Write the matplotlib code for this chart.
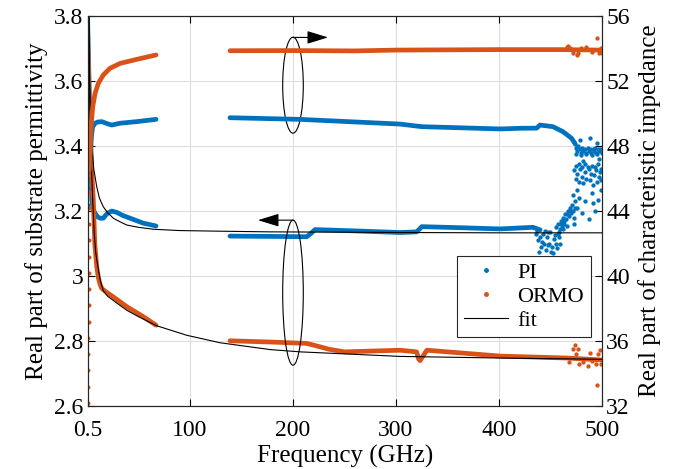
import matplotlib
matplotlib.use('Agg')
import matplotlib.pyplot as plt
from matplotlib.patches import Ellipse
from matplotlib.lines import Line2D

plt.rcParams['font.family'] = ['Liberation Serif', 'DejaVu Serif']

BLUE = '#0072BD'
ORANGE = '#D95319'

# ---- PI, permittivity (left axis) ----
pi_eps_f1 = [0.5, 1.5, 2.5, 3.6, 4.6, 6.0, 7.8, 10.0, 12.6, 15.8, 19.7, 24.0, 28.8, 35.0, 41.8, 54.4, 67.0]
pi_eps_v1 = [3.80, 3.66, 3.52, 3.40, 3.234, 3.205, 3.193, 3.183, 3.178, 3.178, 3.193, 3.200, 3.196, 3.186, 3.178, 3.163, 3.154]
pi_eps_f2 = [138.8, 180.0, 213.3, 217.0, 221.4, 260.0, 303.9, 320.0, 323.0, 325.0, 360.0, 401.0, 433.0, 440.0]
pi_eps_v2 = [3.123, 3.122, 3.121, 3.130, 3.143, 3.139, 3.134, 3.136, 3.145, 3.152, 3.149, 3.145, 3.150, 3.142]
pi_eps_noise_f = [436, 438, 440, 441, 443, 444, 446, 447, 449, 450, 452, 453, 455, 456, 458, 459, 445, 439, 451, 457,
                  442, 448, 454, 437, 447.5, 452.5,
                  455, 457, 459, 460, 462, 463, 464, 465, 467, 468, 469, 470, 471, 472, 466, 461, 474, 476,
                  460.5, 463.5, 466.5, 469.5, 472.5, 458, 462.5]
pi_eps_noise_v = [3.13, 3.11, 3.12, 3.09, 3.13, 3.10, 3.08, 3.12, 3.10, 3.135, 3.09, 3.115, 3.10, 3.085, 3.12, 3.10,
                  3.14, 3.075, 3.075, 3.13,
                  3.105, 3.095, 3.125, 3.14, 3.135, 3.07,
                  3.15, 3.16, 3.145, 3.17, 3.18, 3.16, 3.19, 3.175, 3.20, 3.185, 3.21, 3.195, 3.22, 3.20, 3.155,
                  3.15, 3.23, 3.21,
                  3.16, 3.17, 3.19, 3.20, 3.18, 3.135, 3.145]

# ---- PI, characteristic impedance (right axis) ----
pi_z_f1 = [2.0, 3.6, 4.6, 5.5, 7.8, 10.0, 14.3, 20.7, 24.0, 32.0, 48.3, 67.0]
pi_z_v1 = [46.5, 47.96, 48.8, 49.19, 49.40, 49.47, 49.50, 49.35, 49.29, 49.40, 49.50, 49.64]
pi_z_f2 = [138.8, 206.8, 219.7, 303.9, 325.0, 401.0, 420.4, 436.6, 439.8, 452.4, 462.2, 466.0, 470.6, 473.8]
pi_z_v2 = [49.74, 49.64, 49.60, 49.35, 49.19, 49.05, 49.09, 49.10, 49.29, 49.19, 48.88, 48.70, 48.47, 48.16]
pi_z_noise_f = [473.8, 475, 476, 477, 478.7, 480, 481, 482, 483.5, 485, 486, 487, 488.3, 489.5, 491, 492, 493.2,
                494.5, 496, 497, 498, 499.5, 474.5, 479.5, 484.5, 490, 495, 500,
                473, 474.5, 476, 477.5, 479, 480.5, 482, 483.5, 485, 486.5, 488, 489.5, 491, 492.5, 494, 495.5,
                497, 498.5, 499.5, 475, 478, 481, 484, 487, 490, 493, 496, 499,
                472, 474, 478, 481, 484, 487, 490, 493, 496, 499, 488, 479, 495, 473, 476, 491, 482, 497]
pi_z_noise_v = [48.1, 47.9, 47.7, 48.0, 47.8, 47.6, 47.9, 47.7, 47.8, 47.6, 47.9, 47.7, 47.8, 47.6, 47.8, 47.7, 47.9,
                47.6, 47.8, 47.7, 47.8, 47.7, 47.5, 47.45, 47.5, 47.45, 47.5, 47.6,
                46.5, 46.0, 46.3, 45.8, 46.6, 46.1, 45.7, 46.4, 46.0, 46.7, 45.9, 46.3, 45.6, 46.2, 46.5, 45.8,
                46.1, 46.4, 45.9, 46.8, 46.9, 46.7, 46.9, 46.6, 46.8, 46.7, 46.9, 46.6,
                45.0, 44.2, 44.8, 43.9, 44.6, 43.5, 45.1, 44.0, 44.7, 45.3, 48.5, 48.4, 48.2, 43.2, 45.3, 44.5,
                47.1, 47.2]

# ---- ORMO, permittivity (left axis) ----
ormo_eps_f1 = [0.5, 2.0, 3.6, 4.6, 6.1, 7.5, 9.4, 11.0, 12.6, 14.3, 19.0, 25.5, 38.6, 54.7, 67.0]
ormo_eps_v1 = [3.75, 3.55, 3.40, 3.32, 3.234, 3.10, 3.029, 2.995, 2.975, 2.962, 2.950, 2.936, 2.906, 2.875, 2.849]
ormo_eps_f2 = [138.8, 180.0, 213.0, 219.7, 235.0, 250.0, 303.9, 320.0, 322.0, 323.5, 325.0, 330.0, 401.0, 466.0, 500.0]
ormo_eps_v2 = [2.801, 2.797, 2.793, 2.788, 2.775, 2.767, 2.772, 2.767, 2.745, 2.740, 2.748, 2.772, 2.754, 2.748, 2.742]
ormo_eps_low_f = [1.2, 1.25, 1.3, 1.35, 1.4, 1.45, 1.5, 1.55, 1.6, 1.65, 1.7, 1.75, 1.8, 1.85, 1.9, 1.95]
ormo_eps_low_v = [2.61, 2.66, 2.71, 2.76, 2.81, 2.86, 2.91, 2.96, 3.01, 3.06, 3.11, 3.16, 3.21, 3.26, 3.31, 3.36]
pi_eps_low_f = [1.0, 1.05, 1.1, 1.15, 1.2, 1.25, 1.3]
pi_eps_low_v = [3.22, 3.27, 3.32, 3.37, 3.42, 3.47, 3.52]
ormo_eps_noise_f = [472, 473.8, 476.7, 475, 478, 482, 486, 490, 494, 496, 494.8, 498.3, 499, 468, 488]
ormo_eps_noise_v = [2.775, 2.788, 2.777, 2.760, 2.730, 2.735, 2.725, 2.740, 2.730, 2.760, 2.665, 2.772, 2.730, 2.735, 2.765]

# ---- ORMO, characteristic impedance (right axis) ----
ormo_z_f1 = [2.0, 2.9, 3.9, 5.5, 7.8, 11.0, 15.8, 22.3, 32.0, 48.3, 67.0]
ormo_z_v1 = [46.5, 47.75, 49.2, 50.4, 51.24, 51.86, 52.37, 52.78, 53.08, 53.33, 53.60]
ormo_z_f2 = [138.8, 200.0, 260.0, 300.0, 400.0, 460.0, 500.0]
ormo_z_v2 = [53.86, 53.87, 53.85, 53.90, 53.93, 53.93, 53.90]
ormo_z_noise_f = [466, 467.3, 469, 472, 475.5, 477, 480, 485, 490, 494.8, 497, 499, 500]
ormo_z_noise_v = [54.1, 54.15, 54.05, 53.75, 53.6, 53.7, 54.05, 54.1, 53.8, 54.63, 53.75, 54.0, 53.7]

# ---- fits ----
fit_pi_f = [1.9, 2.2, 3.0, 4.6, 6.5, 9.4, 12.0, 15.8, 20.0, 25.5, 32.0, 38.6, 50.0, 64.4, 90.0, 130.0, 177.7,
            250.0, 303.9, 400.0, 500.0]
fit_pi_v = [3.80, 3.66, 3.52, 3.40, 3.33, 3.275, 3.24, 3.213, 3.195, 3.178, 3.167, 3.157, 3.150, 3.144, 3.140,
            3.138, 3.136, 3.135, 3.134, 3.133, 3.133]
fit_ormo_f = [1.6, 2.2, 3.0, 3.8, 4.6, 5.5, 7.0, 8.5, 11.0, 13.0, 15.8, 20.0, 25.5, 38.6, 48.3, 67.0, 96.8, 129.1,
              177.7, 206.8, 303.9, 401.0, 500.0]
fit_ormo_v = [3.80, 3.65, 3.50, 3.40, 3.31, 3.234, 3.13, 3.07, 3.02, 2.985, 2.955, 2.938, 2.925, 2.895, 2.878,
              2.848, 2.818, 2.795, 2.774, 2.767, 2.753, 2.748, 2.744]

x_ticks = [0.5, 100, 200, 300, 400, 500]
x_ticklabels = ['0.5', '100', '200', '300', '400', '500']
eps_ticks = [2.6, 2.8, 3.0, 3.2, 3.4, 3.6, 3.8]
eps_ticklabels = ['2.6', '2.8', '3', '3.2', '3.4', '3.6', '3.8']
z_ticks = [32, 36, 40, 44, 48, 52, 56]

FS = 17
LFS = 18
LW = 3.4
MS = 3.2

fig = plt.figure(figsize=(6.84, 4.69), dpi=100)
ax = fig.add_axes([0.128, 0.134, 0.752, 0.832])
ax2 = ax.twinx()

ax.grid(True, color='#DEDEDE', linewidth=0.8)
ax.set_axisbelow(True)

# permittivity
for f, v, c in [(pi_eps_f1, pi_eps_v1, BLUE), (pi_eps_f2, pi_eps_v2, BLUE),
                (ormo_eps_f1, ormo_eps_v1, ORANGE), (ormo_eps_f2, ormo_eps_v2, ORANGE)]:
    ax.plot(f, v, color=c, lw=LW, solid_capstyle='round', solid_joinstyle='round')
ax.plot(pi_eps_low_f, pi_eps_low_v, '.', color=BLUE, ms=MS + 0.5)
ax.plot(ormo_eps_low_f, ormo_eps_low_v, '.', color=ORANGE, ms=MS + 0.5)
ax.plot(pi_eps_noise_f, pi_eps_noise_v, '.', color=BLUE, ms=MS + 1)
ax.plot(ormo_eps_noise_f, ormo_eps_noise_v, '.', color=ORANGE, ms=MS + 1)

# impedance
for f, v, c in [(pi_z_f1, pi_z_v1, BLUE), (pi_z_f2, pi_z_v2, BLUE),
                (ormo_z_f1, ormo_z_v1, ORANGE), (ormo_z_f2, ormo_z_v2, ORANGE)]:
    ax2.plot(f, v, color=c, lw=LW, solid_capstyle='round', solid_joinstyle='round')
ax2.plot(pi_z_noise_f, pi_z_noise_v, '.', color=BLUE, ms=MS + 1)
ax2.plot(ormo_z_noise_f, ormo_z_noise_v, '.', color=ORANGE, ms=MS + 1)

# fits
ax.plot(fit_pi_f, fit_pi_v, color='black', lw=0.8, zorder=5)
ax.plot(fit_ormo_f, fit_ormo_v, color='black', lw=0.8, zorder=5)

# ellipses + arrows (permittivity coordinates)
ax.add_patch(Ellipse((200, 3.587), 20, 0.295, fill=False, ec='black', lw=0.8, zorder=6))
ax.add_patch(Ellipse((200, 2.949), 20, 0.446, fill=False, ec='black', lw=0.8, zorder=6))
arrow_style = dict(arrowstyle='-|>,head_length=1.3,head_width=0.4', color='black', lw=0.8,
                   shrinkA=0, shrinkB=0)
ax.annotate('', xy=(234, 3.734), xytext=(200, 3.734), arrowprops=arrow_style, zorder=6)
ax.annotate('', xy=(166, 3.172), xytext=(200, 3.172), arrowprops=arrow_style, zorder=6)

# axes setup
ax.set_xlim(0.5, 500)
ax.set_ylim(2.6, 3.8)
ax2.set_ylim(32, 56)
ax.set_xticks(x_ticks)
ax.set_xticklabels(x_ticklabels, fontsize=FS)
ax.set_yticks(eps_ticks)
ax.set_yticklabels(eps_ticklabels, fontsize=FS)
ax2.set_yticks(z_ticks)
ax2.set_yticklabels([str(t) for t in z_ticks], fontsize=FS)
ax.tick_params(axis='x', direction='in', top=True, length=5, width=0.8, pad=10)
ax.tick_params(axis='y', direction='in', right=False, length=5, width=0.8, pad=3)
ax2.tick_params(direction='in', length=5, width=0.8, pad=3)
for a in (ax, ax2):
    for s in a.spines.values():
        s.set_linewidth(0.8)
        s.set_color('#262626')

ax.set_xlabel('Frequency (GHz)', fontsize=LFS, labelpad=3)
ax.set_ylabel('Real part of substrate permittivity', fontsize=LFS, labelpad=4)
ax2.set_ylabel('Real part of characteristic impedance', fontsize=LFS, labelpad=6)

handles = [Line2D([], [], ls='none', marker='.', color=BLUE, ms=5),
           Line2D([], [], ls='none', marker='.', color=ORANGE, ms=5),
           Line2D([], [], color='black', lw=0.8)]
leg = ax2.legend(handles, ['PI', 'ORMO', 'fit'], loc='lower right', bbox_to_anchor=(0.978, 0.176),
                 fontsize=16, frameon=True, fancybox=False, edgecolor='#262626', framealpha=1,
                 borderpad=0.3, labelspacing=0.15, handlelength=2.0, handletextpad=0.4, borderaxespad=0)
leg.get_frame().set_linewidth(0.8)

fig.savefig('out.png', dpi=100)
